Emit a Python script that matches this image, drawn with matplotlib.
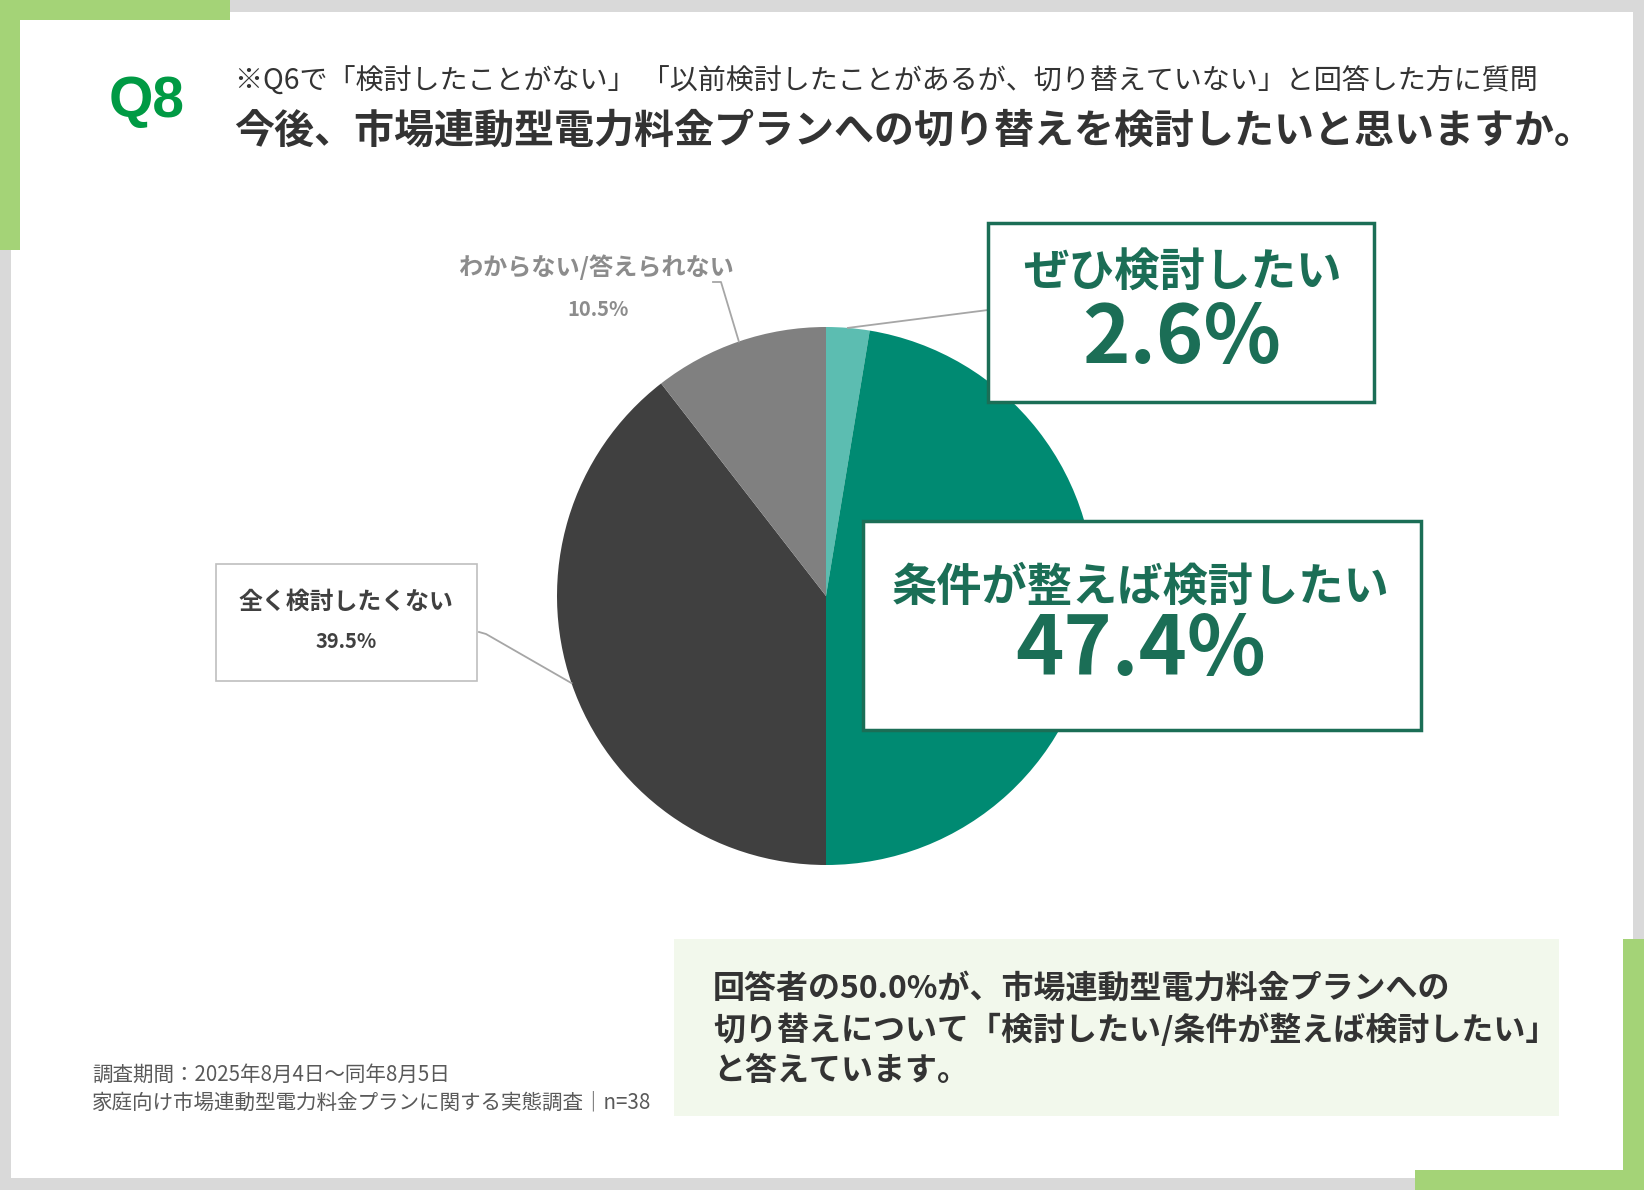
import numpy as np
import matplotlib
matplotlib.use('Agg')
import matplotlib.pyplot as plt
from matplotlib.patches import Rectangle

plt.rcParams['font.family'] = ['Noto Sans CJK JP', 'DejaVu Sans']

# data
labels = ['ぜひ検討したい', '条件が整えば検討したい', '全く検討したくない', 'わからない/答えられない']
values = [2.6, 47.4, 39.5, 10.5]
colors = ['#5cbdb1', '#008a72', '#404040', '#808080']

title_q = 'Q8'
subtitle = '※Q6で「検討したことがない」 「以前検討したことがあるが、切り替えていない」と回答した方に質問'
title = '今後、市場連動型電力料金プランへの切り替えを検討したいと思いますか。'
summary = ['回答者の50.0%が、市場連動型電力料金プランへの',
           '切り替えについて「検討したい/条件が整えば検討したい」',
           'と答えています。']
notes = ['調査期間：2025年8月4日～同年8月5日',
         '家庭向け市場連動型電力料金プランに関する実態調査｜n=38']

W, H = 1644, 1190
GREEN = '#a4d377'
DKGREEN = '#1b6e56'


def Y(y):
    # pixel y from top -> data y
    return H - y


fig = plt.figure(figsize=(W / 100, H / 100), dpi=100, facecolor='#d9d9d9')
ax = fig.add_axes([0, 0, 1, 1])

# frame
ax.add_patch(Rectangle((11, Y(1178)), 1622, 1166, fc='white', ec='none', zorder=0))
ax.add_patch(Rectangle((0, Y(20)), 230, 20, fc=GREEN, ec='none', zorder=1))
ax.add_patch(Rectangle((0, Y(250)), 20, 250, fc=GREEN, ec='none', zorder=1))
ax.add_patch(Rectangle((1623, Y(1190)), 21, 251, fc=GREEN, ec='none', zorder=1))
ax.add_patch(Rectangle((1415, Y(1190)), 229, 20, fc=GREEN, ec='none', zorder=1))

# header
ax.text(147, Y(102), title_q, fontsize=41, fontweight='bold', color='#009a44',
        family=['Liberation Sans', 'DejaVu Sans'], ha='center', va='center')
ax.text(235, Y(82), subtitle, fontsize=20.2, color='#333333', ha='left', va='center')
ax.text(234, Y(131), title, fontsize=28.8, fontweight='bold', color='#333333',
        ha='left', va='center')

# pie
cx, cy, r = 826, Y(596), 269
ax.pie(values, colors=colors, startangle=90, counterclock=False,
       center=(cx, cy), radius=r, wedgeprops=dict(linewidth=0))


def wedge_mid(i):
    a0 = sum(values[:i]) / sum(values) * 360
    a = np.deg2rad(a0 + values[i] / sum(values) * 180)
    return cx + r * np.sin(a), cy + r * np.cos(a)


lc = '#a6a6a6'
# leader lines
mx, my = wedge_mid(0)
ax.plot([mx, 988], [my, Y(310)], color=lc, lw=1.3, zorder=3)
mx, my = wedge_mid(2)
ax.plot([479, 486, mx], [Y(632), Y(634), my], color=lc, lw=1.3, zorder=3)
mx, my = wedge_mid(3)
ax.plot([713, 721, mx], [Y(282), Y(282), my], color=lc, lw=1.3, zorder=3)

# callout: ぜひ検討したい
ax.add_patch(Rectangle((988, Y(402)), 386, 179, fc='white', ec=DKGREEN, lw=2.5, zorder=4))
ax.text(1182, Y(274), labels[0], fontsize=32.8, fontweight='bold', color=DKGREEN,
        ha='center', va='center', zorder=5)
ax.text(1182, Y(340), f'{values[0]}%', fontsize=58, fontweight='bold', color=DKGREEN,
        ha='center', va='center', zorder=5)

# callout: 条件が整えば検討したい
ax.add_patch(Rectangle((863, Y(730)), 558, 209, fc='white', ec=DKGREEN, lw=2.5, zorder=4))
ax.text(1141, Y(588), labels[1], fontsize=32.6, fontweight='bold', color=DKGREEN,
        ha='center', va='center', zorder=5)
ax.text(1141, Y(651), f'{values[1]}%', fontsize=59, fontweight='bold', color=DKGREEN,
        ha='center', va='center', zorder=5)

# callout: 全く検討したくない
ax.add_patch(Rectangle((216, Y(681)), 261, 117, fc='white', ec='#bfbfbf', lw=1.2, zorder=4))
ax.text(346, Y(602), labels[2], fontsize=17.2, fontweight='bold', color='#404040',
        ha='center', va='center', zorder=5)
ax.text(346, Y(642), f'{values[2]}%', fontsize=14.5, fontweight='bold', color='#404040',
        ha='center', va='center', zorder=5)

# label: わからない/答えられない
ax.text(596, Y(267), labels[3], fontsize=17.4, fontweight='bold', color='#8c8c8c',
        ha='center', va='center', zorder=5)
ax.text(598, Y(309), f'{values[3]}%', fontsize=14.5, fontweight='bold', color='#8c8c8c',
        ha='center', va='center', zorder=5)

# summary box
ax.add_patch(Rectangle((674, Y(1116)), 885, 177, fc='#f2f8ec', ec='none', zorder=2))
for i, line in enumerate(summary):
    ax.text(713, Y(989 + i * 41), line, fontsize=23, fontweight='bold', color='#333333',
            ha='left', va='center', zorder=5)

# footnote
for i, line in enumerate(notes):
    ax.text(92, Y(1075 + i * 27), line, fontsize=14.8, color='#595959',
            ha='left', va='center', zorder=5)

ax.set_xlim(0, W)
ax.set_ylim(0, H)
ax.set_aspect('auto')
ax.axis('off')

fig.savefig('out.png', dpi=100, facecolor=fig.get_facecolor())
